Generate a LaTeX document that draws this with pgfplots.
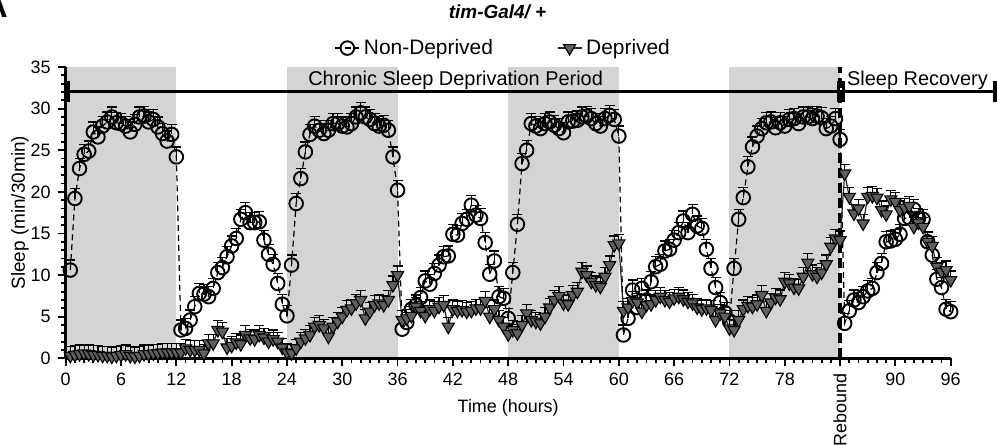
\documentclass[border=0pt]{standalone}
\usepackage{fontspec}
\setmainfont{Liberation Sans}
\usepackage{graphicx}
\usepackage{pgfplots}
\usepackage{pgfplotstable}
\pgfplotsset{compat=1.18}
\definecolor{bandgray}{RGB}{212,212,212}
\definecolor{trifill}{RGB}{95,95,95}

\pgfplotstableread{
t v
0.5 10.6
1 19.2
1.5 22.8
2 24.5
2.5 24.9
3 27.2
3.5 26.6
4 27.9
4.5 28.4
5 29.0
5.5 28.3
6 28.2
6.5 27.9
7 27.2
7.5 28.1
8 29.0
8.5 29.1
9 28.4
9.5 28.7
10 27.8
10.5 27.0
11 26.1
11.5 26.9
12 24.2
12.5 3.4
13 3.6
13.5 4.6
14 6.2
14.5 7.8
15 7.7
15.5 7.4
16 8.4
16.5 10.3
17 10.9
17.5 12.2
18 13.5
18.5 14.4
19 16.7
19.5 17.5
20 16.3
20.5 16.3
21 16.4
21.5 14.2
22 12.5
22.5 11.3
23 9.0
23.5 6.5
24 5.1
24.5 11.2
25 18.6
25.5 21.6
26 24.8
26.5 26.9
27 27.9
27.5 27.4
28 27.0
28.5 27.4
29 28.2
29.5 28.2
30 27.9
30.5 27.8
31 28.2
31.5 29.0
32 29.5
32.5 29.0
33 28.7
33.5 28.2
34 27.9
34.5 28.0
35 27.4
35.5 24.2
36 20.2
36.5 3.5
37 4.3
37.5 5.9
38 6.4
38.5 7.3
39 9.3
39.5 8.9
40 10.2
40.5 11.2
41 12.2
41.5 12.3
42 14.9
42.5 14.8
43 16.2
43.5 16.7
44 18.4
44.5 17.2
45 16.8
45.5 13.9
46 10.1
46.5 11.7
47 7.4
47.5 7.2
48 4.8
48.5 10.3
49 16.1
49.5 23.4
50 25.0
50.5 28.2
51 27.9
51.5 27.6
52 28.2
52.5 28.4
53 28.0
53.5 27.6
54 27.1
54.5 28.4
55 28.5
55.5 28.6
56 29.0
56.5 29.1
57 28.8
57.5 28.2
58 27.9
58.5 28.8
59 29.2
59.5 28.7
60 26.7
60.5 2.8
61 4.8
61.5 8.2
62 6.1
62.5 8.4
63 7.0
63.5 9.2
64 11.0
64.5 11.3
65 12.9
65.5 13.1
66 14.2
66.5 15.1
67 16.5
67.5 15.1
68 17.3
68.5 15.9
69 15.6
69.5 13.1
70 10.8
70.5 8.5
71 6.7
71.5 5.5
72 4.5
72.5 10.8
73 16.7
73.5 19.3
74 23.0
74.5 25.4
75 26.7
75.5 27.6
76 28.3
76.5 28.4
77 27.7
77.5 28.3
78 27.9
78.5 28.7
79 28.8
79.5 28.2
80 29.0
80.5 29.0
81 28.8
81.5 29.1
82 28.9
82.5 27.6
83 27.9
83.5 28.8
84 26.3
84.5 4.2
85 5.7
85.5 7.0
86 6.7
86.5 7.4
87 8.1
87.5 8.4
88 10.3
88.5 11.4
89 14.0
89.5 14.1
90 14.3
90.5 14.9
91 16.8
91.5 16.9
92 17.9
92.5 16.8
93 16.7
93.5 14.0
94 12.4
94.5 9.5
95 8.5
95.5 5.9
96 5.6
}\nd

\pgfplotstableread{
t v
0.5 0.3
1 0.4
1.5 0.5
2 0.6
2.5 0.5
3 0.4
3.5 0.4
4 0.3
4.5 0.3
5 0.2
5.5 0.3
6 0.4
6.5 0.5
7 0.3
7.5 0.2
8 0.3
8.5 0.5
9 0.5
9.5 0.6
10 0.6
10.5 0.7
11 0.7
11.5 0.7
12 0.7
12.5 0.7
13 1.2
13.5 1.0
14 1.0
14.5 1.0
15 0.6
15.5 1.8
16 1.8
16.5 3.4
17 3.2
17.5 1.3
18 1.5
18.5 1.9
19 1.7
19.5 2.8
20 2.4
20.5 2.3
21 2.8
21.5 2.5
22 2.0
22.5 2.3
23 2.0
23.5 1.3
24 0.7
24.5 0.6
25 1.2
25.5 2.0
26 2.4
26.5 2.8
27 3.8
27.5 4.0
28 3.6
28.5 2.6
29 3.8
29.5 4.4
30 5.0
30.5 5.8
31 6.0
31.5 6.6
32 7.0
32.5 4.8
33 5.6
33.5 6.4
34 6.6
34.5 6.4
35 7.0
35.5 8.8
36 10.0
36.5 4.6
37 4.8
37.5 5.1
38 6.2
38.5 5.7
39 5.1
39.5 5.9
40 5.7
40.5 6.2
41 6.4
41.5 3.8
42 5.9
42.5 5.7
43 5.8
43.5 5.6
44 5.7
44.5 6.0
45 6.0
45.5 6.9
46 5.0
46.5 5.9
47 4.6
47.5 3.8
48 2.9
48.5 3.4
49 3.0
49.5 4.0
50 5.4
50.5 4.6
51 4.4
51.5 4.2
52 5.0
52.5 6.1
53 7.0
53.5 7.5
54 6.6
54.5 6.5
55 7.6
55.5 8.0
56 10.4
56.5 10.0
57 9.2
57.5 8.8
58 8.6
58.5 9.8
59 11.2
59.5 13.6
60 13.8
60.5 5.7
61 6.1
61.5 6.9
62 6.7
62.5 5.6
63 6.4
63.5 6.5
64 7.0
64.5 7.4
65 7.0
65.5 6.8
66 7.2
66.5 7.4
67 7.1
67.5 6.8
68 6.6
68.5 6.1
69 5.9
69.5 6.0
70 5.8
70.5 4.6
71 5.4
71.5 5.0
72 3.6
72.5 3.4
73 4.6
73.5 5.9
74 6.3
74.5 6.2
75 6.5
75.5 7.6
76 5.7
76.5 6.7
77 7.3
77.5 7.1
78 9.2
78.5 9.0
79 8.5
79.5 8.4
80 9.8
80.5 11.5
81 10.1
81.5 9.8
82 10.3
82.5 11.3
83 13.4
83.5 14.4
84 14.2
84.5 22.2
85 19.4
85.5 17.4
86 18.0
86.5 16.2
87 19.4
87.5 19.5
88 19.3
88.5 17.8
89 17.3
89.5 19.1
90 18.8
90.5 17.8
91 18.1
91.5 18.3
92 15.8
92.5 16.3
93 15.8
93.5 14.0
94 13.5
94.5 11.0
95 10.4
95.5 10.6
96 9.4
}\dep

\begin{document}
\begin{tikzpicture}
\useasboundingbox (-32.85bp,-43.35bp) rectangle (465.65bp,179.15bp);
\node[anchor=south east, inner sep=0pt, font=\bfseries\fontsize{16}{16}\selectfont] at (-28.85bp,170.15bp) {A};
\begin{axis}[
  at={(0,0)}, anchor=south west,
  scale only axis, width=442.5bp, height=145.65bp,
  xmin=0, xmax=96, ymin=0, ymax=35,
  axis x line*=bottom, axis y line*=left,
  axis on top,
  clip=false,
  xtick={0,6,...,96},
  xticklabels={0,6,12,18,24,30,36,42,48,54,60,66,72,78,\rotatebox{90}{Rebound},90,96},
  minor x tick num=5,
  ytick={0,5,...,35},
  minor y tick num=4,
  tick align=outside,
  major tick length=4bp, minor tick length=2.2bp,
  every tick/.style={black, line width=0.9bp},
  axis line style={line width=1.3bp},
  /pgf/number format/assume math mode=true,
  ticklabel style={font=\fontsize{9}{10.8}\selectfont},
  xlabel={Time (hours)},
  ylabel={Sleep (min/30min)},
  xlabel style={at={(axis description cs:0.5,-0.1706)}, anchor=center, font=\fontsize{9}{10.8}\selectfont},
  ylabel style={at={(axis description cs:-0.0516,0.5)}, anchor=center, rotate=0, font=\fontsize{9.5}{11}\selectfont},
  legend style={at={(axis description cs:0.4956,1.065)}, anchor=center, draw=none, fill=none,
    legend columns=2, font=\fontsize{10.5}{12}\selectfont,
    /tikz/every even column/.append style={column sep=30bp}},
  legend cell align=left,
  legend image code/.code={\draw[mark repeat=2,mark phase=2,#1] plot coordinates {(0bp,0bp) (6bp,0bp) (12bp,0bp)};},
]
\fill[bandgray] (axis cs:0,0) rectangle (axis cs:12,35);
\fill[bandgray] (axis cs:24,0) rectangle (axis cs:36,35);
\fill[bandgray] (axis cs:48,0) rectangle (axis cs:60,35);
\fill[bandgray] (axis cs:72,0) rectangle (axis cs:84,35);
\draw[line width=2bp, dash pattern=on 5bp off 2.5bp] (axis cs:84,0) -- (axis cs:84,35);

\addplot[black, densely dashed, line width=0.6bp, mark=o, mark size=3.4bp,
  mark options={solid, fill=white, draw=black, line width=0.95bp},
  error bars/.cd, y dir=plus, y fixed=1.2,
  error bar style={solid, line width=0.6bp, black},
  error mark options={rotate=90, mark size=2.5bp, line width=0.6bp, black}]
  table[x=t, y=v] {\nd};
\addlegendentry{Non-Deprived}

\addplot[black!85, solid, line width=0.6bp, mark=triangle*, mark size=3.5bp,
  mark options={rotate=180, fill=trifill, draw=black, line width=0.55bp},
  error bars/.cd, y dir=plus, y fixed=1.1,
  error bar style={solid, line width=0.6bp, black},
  error mark options={rotate=90, mark size=2.5bp, line width=0.6bp, black}]
  table[x=t, y=v] {\dep};
\addlegendentry{Deprived}

\draw[line width=1.5bp] (axis cs:0,32.1) -- (axis cs:84,32.1);
\draw[line width=1.5bp] (axis cs:84,32.1) -- (axis cs:100.8,32.1);
\draw[line width=1.6bp] (axis cs:0.3,30.8) -- (axis cs:0.3,33.3);
\draw[line width=1.6bp] (axis cs:83.8,30.8) -- (axis cs:83.8,33.3);
\draw[line width=1.6bp] (axis cs:84.35,30.8) -- (axis cs:84.35,33.3);
\draw[line width=1.6bp] (axis cs:100.8,30.8) -- (axis cs:100.8,33.3);
\node[anchor=base, inner sep=0pt, font=\fontsize{10}{12}\selectfont] at (axis cs:42.3,32.75) {Chronic Sleep Deprivation Period};
\node[anchor=base, inner sep=0pt, font=\fontsize{10}{12}\selectfont] at (axis cs:92.4,32.75) {Sleep Recovery};
\node[font=\bfseries\itshape\fontsize{9.5}{11}\selectfont] at (axis description cs:0.488,1.189) {tim-Gal4/ +};
\end{axis}
\end{tikzpicture}
\end{document}
